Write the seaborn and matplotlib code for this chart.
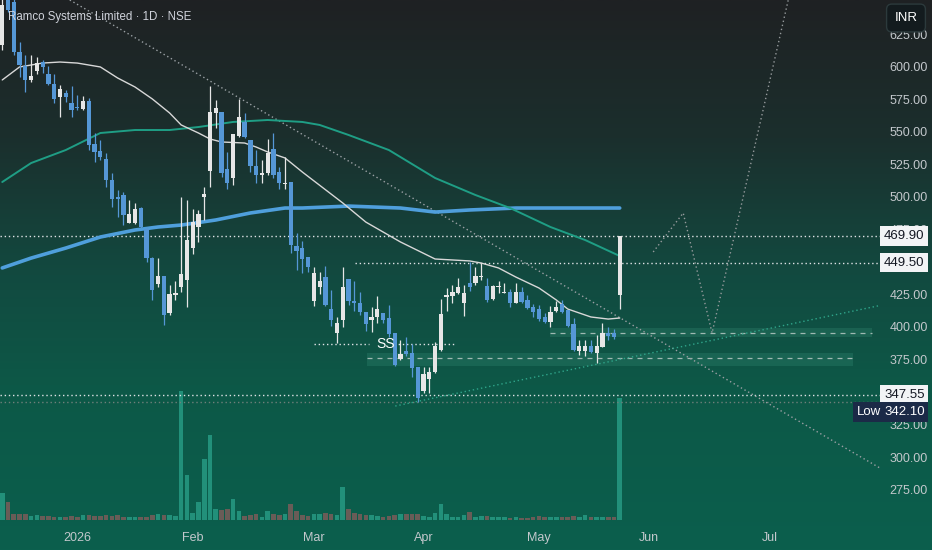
import numpy as np
import matplotlib
matplotlib.use("Agg")
import matplotlib.pyplot as plt
from matplotlib.colors import LinearSegmentedColormap
import seaborn as sns

# daily candles, bar index 0 = first visible session (mid Dec 2025)
opens = [617.0, 655.0, 650.0, 611.5, 600.7, 590.0, 596.9, 603.8, 594.6, 586.9,
         576.9, 580.0, 572.3, 569.2, 567.7, 573.8, 540.7, 535.4, 529.2, 513.0,
         500.0, 501.5, 480.0, 480.0, 491.5, 475.4, 453.0, 433.0, 439.2, 410.7,
         424.6, 430.7, 436.1, 460.7, 476.9, 500.0, 520.0, 564.6, 565.4, 521.5,
         514.6, 546.9, 557.7, 543.8, 523.8, 516.9, 518.4, 536.9, 519.2, 510.0,
         511.5, 462.3, 460.7, 453.8, 420.0, 430.7, 438.4, 413.8, 395.4, 405.4,
         436.9, 420.0, 418.4, 411.5, 405.4, 407.7, 410.7, 406.9, 395.4, 375.4,
         381.5, 380.0, 369.2, 350.7, 360.0, 365.4, 382.3, 423.0, 423.8, 426.1,
         418.4, 433.8, 433.8, 438.4, 431.5, 421.5, 430.7, 426.1, 426.9, 418.4,
         426.9, 420.7, 415.4, 413.8, 407.7, 403.8, 412.3, 417.7, 413.0, 402.3,
         381.5, 381.5, 385.4, 380.0, 384.6, 395.4, 395.4, 424.6]
highs = [652.0, 658.0, 652.0, 619.2, 609.2, 609.2, 607.7, 605.4, 600.7, 594.6,
         586.1, 582.3, 585.4, 578.4, 577.7, 576.1, 549.2, 543.8, 533.8, 518.4,
         505.4, 503.8, 497.7, 495.3, 492.3, 476.9, 453.8, 453.0, 439.2, 432.3,
         435.4, 500.0, 497.7, 490.7, 490.0, 507.7, 585.4, 574.6, 565.4, 534.6,
         548.4, 575.4, 564.6, 543.8, 536.1, 528.4, 544.6, 549.2, 523.0, 530.7,
         511.5, 472.3, 466.1, 453.8, 446.1, 442.3, 446.9, 428.4, 407.7, 446.1,
         436.9, 435.4, 426.9, 411.5, 415.4, 423.8, 410.7, 416.9, 395.4, 390.0,
         392.3, 386.9, 369.2, 369.2, 369.2, 388.4, 421.5, 430.0, 432.3, 437.7,
         432.3, 450.0, 446.1, 449.2, 437.7, 432.3, 435.4, 433.8, 429.2, 433.8,
         430.7, 424.6, 417.7, 416.9, 410.7, 416.1, 420.0, 420.7, 413.0, 406.9,
         390.0, 390.0, 390.0, 393.8, 403.0, 400.0, 398.4, 469.9]
lows = [613.0, 642.0, 609.2, 592.3, 580.7, 588.4, 594.6, 595.4, 586.1, 572.3,
        561.5, 573.0, 561.5, 566.9, 566.9, 536.1, 526.9, 528.4, 507.7, 492.3,
        484.6, 478.4, 480.0, 479.5, 476.1, 450.0, 420.7, 430.7, 401.5, 409.2,
        420.7, 426.9, 415.4, 456.1, 465.4, 482.3, 507.7, 553.0, 515.4, 506.1,
        509.2, 546.1, 545.4, 519.2, 510.7, 510.7, 516.9, 514.6, 506.1, 506.1,
        456.9, 443.8, 441.5, 442.3, 416.1, 425.4, 416.1, 400.7, 387.7, 400.0,
        416.9, 412.3, 409.2, 396.9, 396.1, 403.0, 403.0, 392.3, 370.0, 374.6,
        377.7, 361.5, 342.1, 349.2, 349.2, 364.6, 381.5, 412.3, 418.4, 425.4,
        408.4, 427.7, 432.3, 436.1, 419.2, 420.7, 426.1, 426.1, 415.4, 418.4,
        418.4, 413.8, 407.7, 404.6, 403.0, 400.0, 411.5, 410.7, 400.0, 381.5,
        378.4, 377.7, 380.0, 372.3, 384.6, 390.0, 390.8, 413.8]
closes = [647.7, 643.8, 611.5, 601.5, 590.0, 593.0, 603.0, 600.0, 586.9, 575.4,
          583.0, 576.9, 566.9, 568.4, 573.8, 540.0, 534.6, 530.7, 513.0, 498.4,
          498.4, 486.1, 486.9, 490.7, 476.9, 453.0, 428.4, 439.2, 409.2, 425.4,
          426.1, 440.7, 467.0, 480.7, 486.9, 502.3, 565.4, 568.4, 518.4, 510.7,
          548.4, 561.5, 546.1, 523.8, 516.9, 518.4, 533.8, 516.9, 510.7, 510.7,
          463.1, 458.4, 452.3, 446.1, 441.5, 435.4, 416.9, 405.4, 403.0, 430.7,
          420.0, 418.4, 411.5, 402.3, 407.7, 413.8, 405.4, 394.6, 370.8, 379.2,
          379.2, 368.4, 345.4, 363.8, 365.4, 385.4, 410.0, 424.6, 426.9, 430.7,
          426.1, 430.7, 439.2, 439.2, 420.7, 431.5, 431.5, 426.9, 418.4, 426.9,
          419.2, 414.6, 411.5, 406.1, 403.8, 411.5, 415.4, 411.5, 400.7, 382.3,
          385.4, 385.4, 380.7, 385.4, 395.4, 393.0, 392.3, 469.9]
# volume, thousand shares
volume = [540, 360, 120, 120, 120, 80, 100, 80, 80, 60,
          60, 60, 80, 60, 100, 100, 80, 80, 100, 80,
          100, 60, 60, 60, 60, 60, 100, 120, 100, 100,
          80, 2580, 900, 140, 360, 1220, 1700, 220, 200, 220,
          420, 180, 80, 100, 120, 60, 180, 120, 100, 120,
          320, 180, 100, 80, 120, 120, 140, 120, 100, 660,
          220, 140, 120, 100, 100, 80, 60, 80, 100, 120,
          120, 120, 120, 80, 60, 140, 320, 120, 60, 60,
          100, 160, 60, 80, 80, 60, 60, 60, 40, 60,
          40, 40, 60, 80, 60, 60, 60, 60, 60, 80,
          60, 100, 60, 60, 60, 60, 60, 2440]

# moving averages (bar index, price)
ma_fast_idx = [0, 3, 7, 10, 13, 17, 20, 23, 26, 29, 31, 34, 36, 38, 42, 44, 46, 49,
               52, 59, 63, 69, 75, 81, 83, 86, 89, 93, 96, 98, 102, 105, 107]
ma_fast = [590.0, 600.0, 603.0, 603.8, 603.0, 600.0, 591.5, 584.6, 575.4, 564.6,
           555.4, 549.2, 544.6, 542.3, 541.5, 538.4, 534.6, 530.0, 519.2, 495.4,
           480.7, 465.4, 452.3, 450.8, 449.2, 445.4, 438.4, 430.0, 420.8, 413.8,
           407.7, 406.1, 406.9]
ma_mid_idx = [0, 5, 11, 17, 23, 29, 34, 40, 46, 52, 55, 60, 67, 75, 82, 88, 95, 101, 107]
ma_mid = [511.5, 526.1, 536.1, 549.2, 551.5, 551.5, 553.8, 557.7, 559.2, 557.7,
          555.4, 547.7, 536.1, 514.6, 501.5, 491.5, 476.9, 466.9, 454.6]
ma_slow_idx = [0, 5, 11, 17, 23, 27, 31, 37, 43, 49, 52, 60, 69, 75, 81, 89, 98, 107]
ma_slow = [445.4, 453.0, 460.7, 469.2, 474.6, 476.9, 478.4, 482.3, 487.7, 491.5,
           491.5, 493.0, 491.5, 488.4, 490.0, 491.5, 491.5, 491.5]

# drawings
down_trend_idx = [11.7, 152.1]
down_trend = [651.5, 291.5]
up_trend_idx = [68.1, 152.5]
up_trend = [339.2, 416.9]
path_idx = [112.8, 118.0, 123.0, 136.2]
path_price = [457.7, 487.7, 395.4, 651.5]
zone_upper = (94.9, 150.7, 392.3, 399.2, 395.4)   # x0, x1, low, high, mid
zone_lower = (63.2, 147.4, 370.0, 380.0, 376.1)
ss_level = 386.9
levels = {"469.90": 469.90, "449.50": 449.50, "347.55": 347.55}
low_price = 342.10

month_idx = [13, 33, 54, 73, 93, 112, 133]
month_labels = ["2026", "Feb", "Mar", "Apr", "May", "Jun", "Jul"]
# 350 and 450 sit fully under the price labels, so they are left out
price_ticks = [275, 300, 325, 375, 400, 425, 475, 500, 525, 550, 575, 600, 625]

sns.set_theme(style="dark")
plt.rcParams["font.family"] = ["Liberation Sans", "DejaVu Sans"]

fig = plt.figure(figsize=(9.32, 5.5), dpi=100)

# background gradient
bg = fig.add_axes([0, 0, 1, 1])
cmap = LinearSegmentedColormap.from_list(
    "bg", [(0, "#0b5f4d"), (0.3, "#0d5847"), (0.5, "#124a40"),
           (0.75, "#1b2f2d"), (1, "#1f2123")])
bg.imshow(np.linspace(0, 1, 256).reshape(-1, 1), aspect="auto", cmap=cmap,
          extent=[0, 1, 0, 1], origin="lower")
bg.axis("off")

rect = [0, 25 / 550, 880 / 932, 525 / 550]
xlim = (-0.39, 152.1)
ylim = (247.7, 651.5)

o = np.array(opens); c = np.array(closes)
h = np.array(highs); l = np.array(lows)
x = np.arange(len(o))
up = c >= o

# volume pane
vax = fig.add_axes(rect)
vax.set_xlim(xlim)
vax.set_ylim(-100, 10400)
vax.bar(x, volume, width=0.8, color=np.where(up, "#22907a", "#695c57"), linewidth=0)
vax.axis("off")

ax = fig.add_axes(rect)
ax.set_facecolor("none")
ax.set_xlim(xlim)
ax.set_ylim(ylim)

# zones
for x0, x1, lo, hi, mid in (zone_upper, zone_lower):
    ax.fill_between([x0, x1], lo, hi, color="#5cc4a4", alpha=0.15, linewidth=0, zorder=1)
    ax.plot([x0, x1], [mid, mid], color="#9fb9b2", lw=0.9, ls=(0, (4, 4)), zorder=1.5)

# horizontal levels
dots = (0, (1, 2))
ax.axhline(levels["469.90"], color="#dfe3e6", lw=1, ls=dots, zorder=1.5)
ax.plot([61.1, xlim[1]], [levels["449.50"]] * 2, color="#dfe3e6", lw=1, ls=dots, zorder=1.5)
ax.axhline(levels["347.55"], color="#dfe3e6", lw=1, ls=dots, zorder=1.5)
ax.axhline(low_price, color="#6f7f7a", lw=1, ls=dots, zorder=1.5)
ax.plot([54.0, 63.5], [ss_level] * 2, color="#dfe3e6", lw=1, ls=dots, zorder=1.5)
ax.plot([67.8, 78.2], [ss_level] * 2, color="#dfe3e6", lw=1, ls=dots, zorder=1.5)
ax.text(66.4, ss_level, "SS", color="white", fontsize=10, ha="center", va="center", zorder=6)

# trend lines and projection
ax.plot(down_trend_idx, down_trend, color="#9aa0a4", lw=1, ls=dots, zorder=1.5)
ax.plot(up_trend_idx, up_trend, color="#2fa58a", lw=1, ls=dots, zorder=1.5)
ax.plot(path_idx, path_price, color="#959a9c", lw=1, ls=dots, zorder=1.5)

# moving averages
sns.lineplot(x=ma_slow_idx, y=ma_slow, ax=ax, color="#4f9fdc", linewidth=2.6, sort=False, zorder=2)
sns.lineplot(x=ma_mid_idx, y=ma_mid, ax=ax, color="#1f9e85", linewidth=1.4, sort=False, zorder=2)
sns.lineplot(x=ma_fast_idx, y=ma_fast, ax=ax, color="#d8d8d8", linewidth=1.0, sort=False, zorder=2)

# candles
ccol = np.where(up, "#e6e6e6", "#5597d6")
ax.vlines(x, l, h, colors=ccol, lw=0.9, zorder=4)
ax.bar(x, np.maximum(np.abs(c - o), 0.8), bottom=np.minimum(o, c), width=0.74,
       color=ccol, linewidth=0, zorder=5)

# axes styling
for s in ax.spines.values():
    s.set_visible(False)
ax.grid(False)
ax.yaxis.tick_right()
ax.set_yticks(price_ticks)
ax.set_yticklabels([f"{v:.2f}" for v in price_ticks])
ax.set_xticks(month_idx)
ax.set_xticklabels(month_labels)
ax.tick_params(axis="y", length=0, pad=7, labelsize=9, labelcolor="#c3c8cc")
ax.tick_params(axis="x", length=0, pad=5, labelsize=9, labelcolor="#c3c8cc")
ax.set_xlabel("")
ax.set_ylabel("")

# price labels on the scale
yt = ax.get_yaxis_transform()
for txt, val in levels.items():
    ax.text(1 + 4 / 880, val, txt, transform=yt, ha="left", va="center", fontsize=9.5,
            color="#131722", zorder=10, clip_on=False,
            bbox=dict(boxstyle="square,pad=0.28", fc="#f2f4f6", ec="none"))
ax.text(1 + 4 / 880, 334.6, f"{low_price:.2f}", transform=yt, ha="left", va="center",
        fontsize=9.5, color="white", zorder=10, clip_on=False,
        bbox=dict(boxstyle="square,pad=0.28", fc="#1b2a47", ec="none"))
ax.text(0.974, 334.6, "Low", transform=yt, ha="left", va="center", fontsize=9.5,
        color="white", zorder=10, clip_on=False,
        bbox=dict(boxstyle="square,pad=0.28", fc="#1b2a47", ec="none"))

fig.text(8 / 932, 1 - 17 / 550, "Ramco Systems Limited · 1D · NSE", color="#d1d4dc",
         fontsize=8.3, ha="left", va="center")
fig.text(906 / 932, 1 - 18 / 550, "INR", color="white", fontsize=9.5, ha="center",
         va="center", zorder=20,
         bbox=dict(boxstyle="round,pad=0.6,rounding_size=0.4", fc="#131b1e", ec="#2c3a3c", lw=1))

fig.savefig("out.png", dpi=100)
